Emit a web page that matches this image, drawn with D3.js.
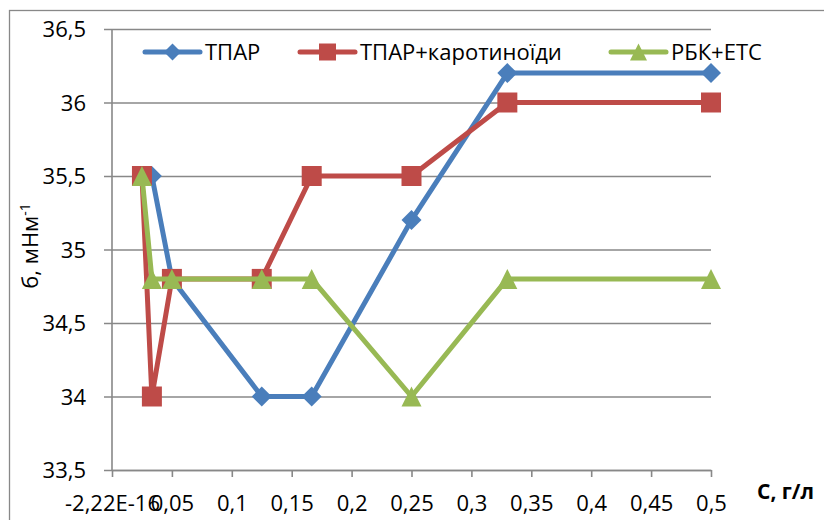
<!DOCTYPE html>
<html>
<head>
<meta charset="utf-8">
<script src="https://cdn.jsdelivr.net/npm/d3@7"></script>
<style>
  html, body { margin: 0; padding: 0; background: #fff; }
  svg { display: block; }
  text { font-family: "Open Sans", "Noto Sans", sans-serif; fill: #000; }
</style>
</head>
<body>
<svg id="chart" width="824" height="520"></svg>
<script>
// Concentration (g/l) and surface tension values for each formulation
const seriesNames = ["ТПАР", "ТПАР+каротиноїди", "РБК+ЕТС"];
const seriesColors = ["#4A7EBB", "#BE4B48", "#98B954"];
const seriesMarkers = ["diamond", "square", "triangle"];

const xTPAR = [0.0333, 0.05, 0.125, 0.1667, 0.25, 0.33, 0.5];
const yTPAR = [35.5, 34.8, 34.0, 34.0, 35.2, 36.2, 36.2];

const xTPARcar = [0.025, 0.0333, 0.05, 0.125, 0.1667, 0.25, 0.33, 0.5];
const yTPARcar = [35.5, 34.0, 34.8, 34.8, 35.5, 35.5, 36.0, 36.0];

const xRBK = [0.025, 0.0333, 0.05, 0.125, 0.1667, 0.25, 0.33, 0.5];
const yRBK = [35.5, 34.8, 34.8, 34.8, 34.8, 34.0, 34.8, 34.8];

const xTickValues = [0, 0.05, 0.1, 0.15, 0.2, 0.25, 0.3, 0.35, 0.4, 0.45, 0.5];
const xTickLabels = ["-2,22E-16", "0,05", "0,1", "0,15", "0,2", "0,25", "0,3", "0,35", "0,4", "0,45", "0,5"];
const yTickValues = [33.5, 34, 34.5, 35, 35.5, 36, 36.5];
const yTickLabels = ["33,5", "34", "34,5", "35", "35,5", "36", "36,5"];

const xs = [xTPAR, xTPARcar, xRBK];
const ys = [yTPAR, yTPARcar, yRBK];

const svg = d3.select("#chart");
const plot = { left: 112, right: 711, top: 29, bottom: 470 };

const x = d3.scaleLinear().domain([0, 0.5]).range([plot.left, plot.right]);
const y = d3.scaleLinear().domain([33.5, 36.5]).range([plot.bottom, plot.top]);

const gridColor = "#888888";

// outer chart frame
svg.append("rect")
  .attr("x", 9.5).attr("y", 10.5)
  .attr("width", 900).attr("height", 600)
  .attr("fill", "none").attr("stroke", gridColor).attr("stroke-width", 1.3);

// horizontal gridlines with outer ticks
const yAxis = d3.axisLeft(y)
  .tickValues(yTickValues)
  .tickFormat((d, i) => yTickLabels[i])
  .tickSize(-(plot.right - plot.left))
  .tickPadding(0);
const gy = svg.append("g").attr("transform", `translate(${plot.left},0)`).call(yAxis);
gy.select(".domain").remove();
gy.selectAll(".tick line").attr("stroke", gridColor).attr("stroke-width", 1.6).attr("x1", -8);
gy.selectAll(".tick text")
  .attr("x", -26).attr("dy", "0.36em")
  .style("font-size", "22px").style("font-family", "'Open Sans', sans-serif").attr("fill", "#000");

// vertical axis line
svg.append("line")
  .attr("x1", plot.left).attr("x2", plot.left)
  .attr("y1", plot.top).attr("y2", plot.bottom)
  .attr("stroke", gridColor).attr("stroke-width", 1.6);

// x axis
const xAxis = d3.axisBottom(x)
  .tickValues(xTickValues)
  .tickFormat((d, i) => xTickLabels[i])
  .tickSize(7)
  .tickSizeOuter(0);
const gx = svg.append("g").attr("transform", `translate(0,${plot.bottom})`).call(xAxis);
gx.select(".domain").attr("stroke", gridColor).attr("stroke-width", 1.6);
gx.selectAll(".tick line").attr("stroke", gridColor).attr("stroke-width", 1.6);
gx.selectAll(".tick text")
  .attr("y", 41).attr("dy", 0)
  .style("font-size", "22px").style("font-family", "'Open Sans', sans-serif").attr("fill", "#000");

// marker shapes
function markerPath(kind, s) {
  if (kind === "diamond") return `M0,${-10*s}L${10*s},0L0,${10*s}L${-10*s},0Z`;
  if (kind === "square") return `M${-10*s},${-10*s}H${10*s}V${10*s}H${-10*s}Z`;
  return `M0,${-10*s}L${10*s},${10*s}L${-10*s},${10*s}Z`;
}

const line = d3.line().x(d => x(d[0])).y(d => y(d[1]));

seriesNames.forEach((name, si) => {
  const pts = xs[si].map((v, i) => [v, ys[si][i]]);
  const g = svg.append("g");
  g.append("path")
    .attr("d", line(pts))
    .attr("fill", "none")
    .attr("stroke", seriesColors[si])
    .attr("stroke-width", 5)
    .attr("stroke-linejoin", "round")
    .attr("stroke-linecap", "round");
  g.selectAll("path.m").data(pts).join("path")
    .attr("class", "m")
    .attr("transform", d => `translate(${x(d[0])},${y(d[1])})`)
    .attr("d", markerPath(seriesMarkers[si], 1))
    .attr("fill", seriesColors[si]);
});

// legend
const legendX = [145, 300, 611];
const legendY = 52;
seriesNames.forEach((name, si) => {
  const g = svg.append("g").attr("transform", `translate(${legendX[si]},${legendY})`);
  g.append("line")
    .attr("x1", 0).attr("x2", 55).attr("y1", 0).attr("y2", 0)
    .attr("stroke", seriesColors[si]).attr("stroke-width", 5).attr("stroke-linecap", "round");
  g.append("path")
    .attr("transform", "translate(27.5,0)")
    .attr("d", markerPath(seriesMarkers[si], 0.85))
    .attr("fill", seriesColors[si]);
  g.append("text")
    .attr("x", 60).attr("y", 0).attr("dy", "0.36em")
    .style("font-size", "22px")
    .text(name);
});

// axis titles
const yTitle = svg.append("text")
  .attr("transform", "translate(38,246) rotate(-90)")
  .attr("text-anchor", "middle")
  .style("font-size", "22px");
yTitle.append("tspan").text("б, мНм");
yTitle.append("tspan").attr("dy", "-0.55em").style("font-size", "14px").text("-1");

svg.append("text")
  .attr("x", 757).attr("y", 499)
  .style("font-size", "21px").style("font-weight", "bold")
  .text("С, г/л");
</script>
</body>
</html>
